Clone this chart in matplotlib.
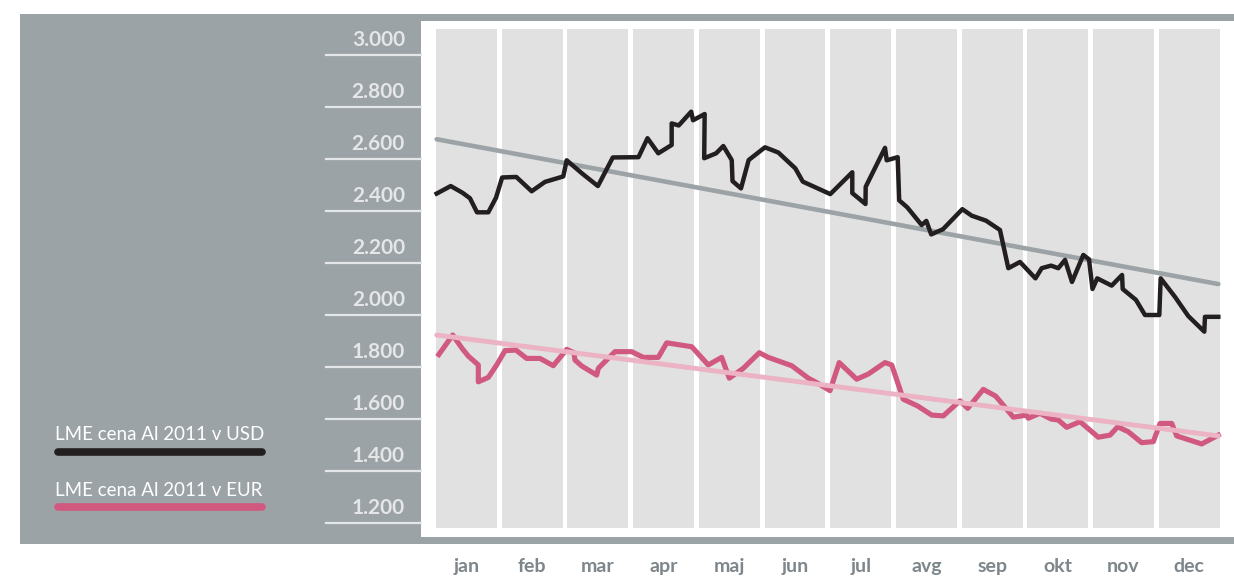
import matplotlib
matplotlib.use("Agg")
import matplotlib.pyplot as plt
import matplotlib.transforms as mtransforms
from matplotlib.patches import Rectangle
from matplotlib.lines import Line2D
import numpy as np

# data (x = position in months, 0 = start of jan)
months = ['jan', 'feb', 'mar', 'apr', 'maj', 'jun', 'jul', 'avg', 'sep', 'okt', 'nov', 'dec']
y_ticks = [1200, 1400, 1600, 1800, 2000, 2200, 2400, 2600, 2800, 3000]
y_ticklabels = ['1.200', '1.400', '1.600', '1.800', '2.000', '2.200', '2.400', '2.600', '2.800', '3.000']

usd_t = [0.046, 0.26, 0.44, 0.553, 0.66, 0.832, 0.949, 1.043, 1.258, 1.492, 1.695, 1.973,
         2.025, 2.266, 2.5, 2.727, 3.118, 3.255, 3.419, 3.623, 3.623, 3.73, 3.92, 3.948,
         4.125, 4.118, 4.3, 4.409, 4.537, 4.549, 4.678, 4.795, 5.043, 5.246, 5.505, 5.619,
         6.037, 6.372, 6.372, 6.573, 6.576, 6.87, 6.896, 7.063, 7.086, 7.209, 7.428, 7.499,
         7.573, 7.753, 8.047, 8.19, 8.407, 8.62, 8.747, 8.925, 9.16, 9.255, 9.397, 9.508,
         9.61, 9.716, 9.888, 9.975, 10.028, 10.1, 10.32, 10.478, 10.488, 10.69, 10.827,
         11.045, 11.066, 11.283, 11.486, 11.73, 11.74, 11.943]
usd = [2467, 2496, 2470, 2449, 2395, 2395, 2451, 2529, 2531, 2476, 2512, 2533,
       2595, 2543, 2496, 2606, 2607, 2680, 2622, 2654, 2737, 2729, 2782, 2749,
       2773, 2603, 2622, 2650, 2596, 2515, 2487, 2596, 2645, 2625, 2564, 2513,
       2465, 2549, 2469, 2427, 2493, 2643, 2595, 2607, 2441, 2414, 2346, 2362,
       2310, 2330, 2407, 2382, 2363, 2327, 2180, 2204, 2141, 2180, 2190, 2180,
       2212, 2127, 2231, 2214, 2100, 2141, 2113, 2154, 2100, 2058, 2000,
       2000, 2141, 2070, 1996, 1936, 1993, 1993]

eur_t = [0.079, 0.29, 0.432, 0.527, 0.68, 0.68, 0.832, 0.96, 1.086, 1.253, 1.416, 1.619,
         1.821, 2.025, 2.136, 2.151, 2.253, 2.482, 2.506, 2.76, 3.014, 3.191, 3.419, 3.547,
         3.928, 4.18, 4.384, 4.5, 4.713, 4.957, 5.094, 5.45, 5.703, 5.83, 6.033, 6.173,
         6.439, 6.616, 6.87, 6.972, 7.149, 7.368, 7.581, 7.757, 8.011, 8.129, 8.366, 8.555,
         8.823, 9.027, 9.051, 9.229, 9.397, 9.508, 9.636, 9.838, 10.116, 10.295, 10.412,
         10.573, 10.777, 10.954, 11.056, 11.234, 11.31, 11.69, 11.943]
eur = [1848, 1923, 1872, 1842, 1808, 1743, 1760, 1808, 1863, 1865, 1833, 1833,
       1805, 1868, 1855, 1827, 1804, 1769, 1795, 1859, 1859, 1837, 1837, 1893,
       1878, 1808, 1837, 1757, 1795, 1855, 1837, 1805, 1757, 1740, 1709, 1817,
       1753, 1773, 1817, 1808, 1676, 1650, 1615, 1612, 1670, 1641, 1714, 1688,
       1607, 1615, 1603, 1622, 1600, 1596, 1568, 1590, 1530, 1538, 1570,
       1551, 1509, 1513, 1583, 1583, 1535, 1504, 1538]

trend_t = [0.046, 11.943]
usd_trend = [2676, 2119]
eur_trend = [1923, 1535]

panel_grey = '#9ca3a6'
col_grey = '#e1e1e1'
black = '#231f20'
pink = '#d1587f'
pink_light = '#ebb3c4'
label_light = '#e4e6e7'
month_grey = '#7d868a'

plt.rcParams['font.family'] = ['Lato', 'DejaVu Sans']

W, H = 1234, 578
fig = plt.figure(figsize=(W / 100, H / 100), dpi=100)

def fr(x0, y0, x1, y1):
    # pixel box (top-left origin) -> figure fraction rect
    return [x0 / W, 1 - y1 / H, (x1 - x0) / W, (y1 - y0) / H]

r = fr(20, 14, 1234, 544)
fig.add_artist(Rectangle((r[0], r[1]), r[2], r[3], transform=fig.transFigure,
                         facecolor=panel_grey, edgecolor='none', zorder=-5))

ax = fig.add_axes(fr(421, 21, 1234, 537))
ax.set_facecolor('white')
for s in ax.spines.values():
    s.set_visible(False)

ax.set_xlim(-0.1925, 12.182)
ax.set_ylim(1146.2, 3130.8)

# month columns
ax.bar(np.arange(12) + 0.5, 3100 - 1181, bottom=1181, width=0.928,
       color=col_grey, zorder=1)

ax.plot(trend_t, usd_trend, color=panel_grey, lw=3.3, solid_capstyle='round', zorder=2)
ax.plot(usd_t, usd, color=black, lw=3.2, zorder=3)
ax.plot(eur_t, eur, color=pink, lw=3.7, zorder=3)
ax.plot(trend_t, eur_trend, color=pink_light, lw=3.5, solid_capstyle='round', zorder=4)

# month labels
ax.set_xticks(np.arange(12) + 0.5)
ax.set_xticklabels(months, fontsize=14, fontweight='bold', color=month_grey)
ax.tick_params(axis='x', length=0, pad=15)
ax.set_yticks([])

# y tick lines and labels in the grey panel
ytr = ax.get_yaxis_transform()
lab_tr = mtransforms.offset_copy(ytr, fig=fig, x=0, y=15, units='dots')
for v, s in zip(y_ticks, y_ticklabels):
    ax.add_line(Line2D([-95 / 813, 0], [v, v], transform=ytr, color=label_light,
                       lw=1.6, clip_on=False))
    ax.text(-16 / 813, v, s, transform=lab_tr, ha='right', va='center',
            fontsize=15, fontweight='bold', color=label_light, clip_on=False)

# legend
fig.text(55 / W, 1 - 435 / H, 'LME cena Al 2011 v USD', color='white',
         fontsize=13.5, ha='left', va='center')
fig.add_artist(Line2D([58 / W, 262 / W], [1 - 452 / H, 1 - 452 / H], transform=fig.transFigure,
                      color=black, lw=5.5, solid_capstyle='round'))
fig.text(55 / W, 1 - 490 / H, 'LME cena Al 2011 v EUR', color='white',
         fontsize=13.5, ha='left', va='center')
fig.add_artist(Line2D([58 / W, 262 / W], [1 - 507 / H, 1 - 507 / H], transform=fig.transFigure,
                      color=pink, lw=5.5, solid_capstyle='round'))

fig.savefig('out.png', dpi=100, facecolor='white')
